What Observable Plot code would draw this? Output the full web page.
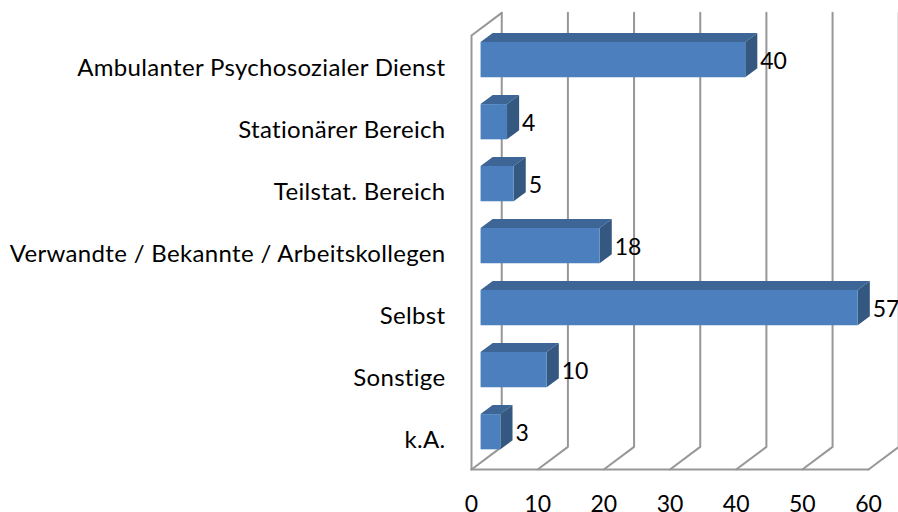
<!DOCTYPE html>
<html>
<head>
<meta charset="utf-8">
<script src="https://cdn.jsdelivr.net/npm/d3@7"></script>
<script src="https://cdn.jsdelivr.net/npm/@observablehq/plot@0.6"></script>
<style>
html,body{margin:0;padding:0;background:#fff}svg{display:block}
g[aria-label="y-axis tick label"]{letter-spacing:.33px;font-variant-ligatures:none}
</style>
</head>
<body>
<div id="chart"></div>
<script>
const categories = ["Ambulanter Psychosozialer Dienst","Stationärer Bereich","Teilstat. Bereich","Verwandte / Bekannte / Arbeitskollegen","Selbst","Sonstige","k.A."];
const values = [40,4,5,18,57,10,3];
const xTicks = [0,10,20,30,40,50,60];

// oblique 3-D projection expressed in data units
const depthX = 4.57, depthY = -0.365;
const barFront = 0.3, barBack = 0.7, barHalf = 0.284;
const P = (v, row, d) => ({x: v + d * depthX, y: row + d * depthY});
const poly = (id, pts) => pts.map(p => ({id, ...p}));

const gridLines = [
  ...xTicks.flatMap(t => poly("g"+t, [P(t,7,0), P(t,7,1), P(t,0,1)])),
  ...poly("floor", [P(0,7,0), P(60,7,0)]),
  ...poly("wall", [P(0,7,0), P(0,0,0), P(0,0,1)])
];
const bars = categories.map((c,i) => ({c, v: values[i], row: i + 0.5}));
const face = (i, b) => {
  const t = b.row - barHalf, u = b.row + barHalf;
  return {
    front: poly("f"+i, [P(0,t,barFront),P(b.v,t,barFront),P(b.v,u,barFront),P(0,u,barFront)]),
    top: poly("t"+i, [P(0,t,barFront),P(b.v,t,barFront),P(b.v,t,barBack),P(0,t,barBack)]),
    side: poly("s"+i, [P(b.v,t,barFront),P(b.v,t,barBack),P(b.v,u,barBack),P(b.v,u,barFront)])
  };
};
const faces = bars.map((b,i) => face(i,b));
const labels = bars.map(b => ({...P(b.v,b.row,barFront), v: b.v}));

const plot = Plot.plot({
  width: 898, height: 512,
  marginLeft: 471, marginRight: 30, marginTop: 35, marginBottom: 43,
  style: {fontFamily: "Lato, sans-serif", background: "#fff", overflow: "visible"},
  x: {domain: [0,60]},
  y: {domain: [0,7], range: [35,469]},
  marks: [
    Plot.line(gridLines, {x:"x", y:"y", z:"id", stroke:"#979797", strokeWidth:2, curve:"linear"}),
    Plot.line(faces.flatMap(f=>f.top), {x:"x", y:"y", z:"id", fill:"#3d6595", stroke:"none"}),
    Plot.line(faces.flatMap(f=>f.side), {x:"x", y:"y", z:"id", fill:"#34587f", stroke:"none"}),
    Plot.line(faces.flatMap(f=>f.front), {x:"x", y:"y", z:"id", fill:"#4c7fbd", stroke:"none"}),
    Plot.text(labels, {x:"x", y:"y", text:"v", dx:15, dy:2, textAnchor:"start", fontSize:23, fill:"#000"}),
    Plot.axisX({ticks:xTicks, anchor:"bottom", tickSize:0, tickPadding:26, fontSize:23, color:"#000", label:null}),
    Plot.axisY({ticks:bars.map(b=>b.row), tickFormat:(d,i)=>categories[Math.round(d-0.5)], anchor:"left", tickSize:0, tickPadding:26, dy:1.5, fontSize:24, color:"#000", label:null})
  ]
});
document.getElementById("chart").appendChild(plot);
</script>
</body>
</html>
